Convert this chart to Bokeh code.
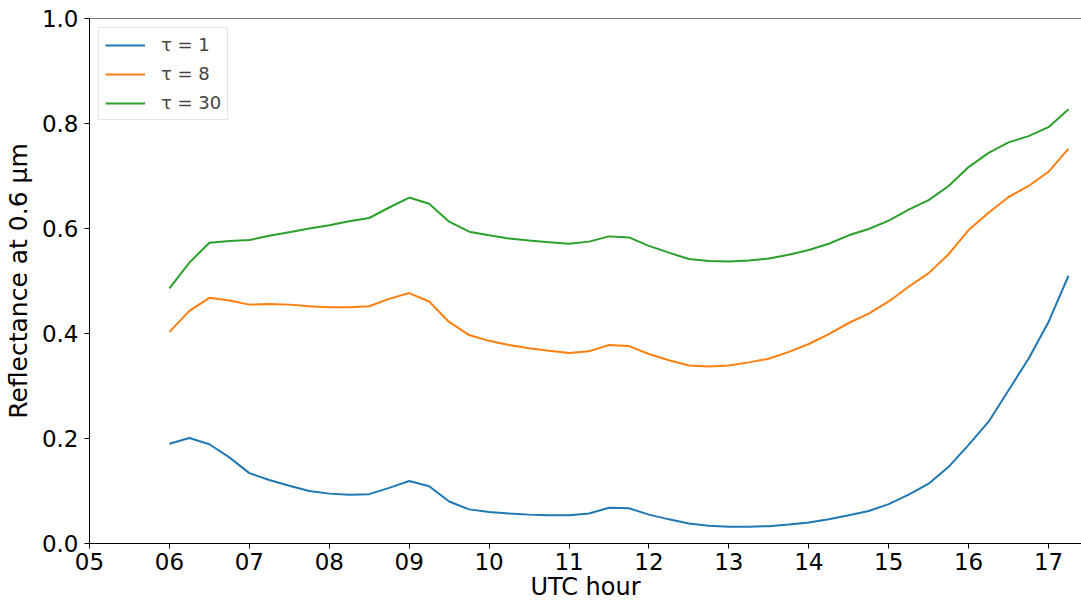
from bokeh.plotting import figure
from bokeh.models import Range1d, FixedTicker, Span, Legend, LegendItem
from bokeh.embed import file_html
from bokeh.resources import INLINE

hours = [6.0 + 0.25 * i for i in range(46)]

tau1 = [0.190, 0.201, 0.189, 0.164, 0.134, 0.121, 0.110, 0.100, 0.095, 0.093,
        0.094, 0.106, 0.119, 0.109, 0.080, 0.065, 0.060, 0.057, 0.055, 0.054,
        0.054, 0.057, 0.068, 0.067, 0.055, 0.046, 0.038, 0.034, 0.032, 0.032,
        0.033, 0.036, 0.040, 0.046, 0.054, 0.062, 0.075, 0.093, 0.114, 0.146,
        0.188, 0.232, 0.292, 0.352, 0.422, 0.510]

tau8 = [0.403, 0.443, 0.468, 0.463, 0.455, 0.456, 0.455, 0.452, 0.450, 0.450,
        0.452, 0.466, 0.477, 0.461, 0.422, 0.397, 0.386, 0.378, 0.372, 0.367,
        0.363, 0.366, 0.378, 0.376, 0.361, 0.349, 0.339, 0.337, 0.339, 0.345,
        0.352, 0.365, 0.380, 0.399, 0.420, 0.438, 0.461, 0.489, 0.515, 0.551,
        0.597, 0.630, 0.660, 0.681, 0.708, 0.752]

tau30 = [0.486, 0.535, 0.573, 0.576, 0.578, 0.586, 0.593, 0.600, 0.606, 0.614,
         0.620, 0.640, 0.659, 0.647, 0.613, 0.594, 0.587, 0.581, 0.577, 0.574,
         0.571, 0.575, 0.585, 0.583, 0.567, 0.554, 0.542, 0.538, 0.537, 0.539,
         0.543, 0.550, 0.559, 0.571, 0.587, 0.599, 0.615, 0.636, 0.654, 0.681,
         0.717, 0.744, 0.764, 0.776, 0.793, 0.827]

series_names = ["τ = 1", "τ = 8", "τ = 30"]
series_values = [tau1, tau8, tau30]
series_colors = ["#1f77b4", "#ff7f0e", "#2ca02c"]

x_ticks = list(range(5, 18))
x_tick_labels = ["05", "06", "07", "08", "09", "10", "11", "12", "13", "14", "15", "16", "17"]
y_ticks = [0.0, 0.2, 0.4, 0.6, 0.8, 1.0]
y_tick_labels = ["0.0", "0.2", "0.4", "0.6", "0.8", "1.0"]
baseline = 0.0

FONT = "DejaVu Sans"

p = figure(width=1081, height=608, output_backend="svg", toolbar_location=None,
           x_range=Range1d(5, 17.4125), y_range=Range1d(0, 1),
           min_border_left=88, min_border_right=0, min_border_top=18, min_border_bottom=65)
p.outline_line_color = None
p.xgrid.visible = False
p.ygrid.visible = False
p.background_fill_color = "white"
p.border_fill_color = "white"

for ax in (p.xaxis[0], p.yaxis[0]):
    ax.axis_line_color = "black"
    ax.axis_line_width = 1
    ax.major_tick_line_color = "black"
    ax.major_tick_out = 5
    ax.major_tick_in = 0
    ax.minor_tick_line_color = None
    ax.major_label_text_font = FONT
    ax.major_label_text_font_size = "23px"
    ax.major_label_text_color = "black"
    ax.axis_label_text_font = FONT
    ax.axis_label_text_font_style = "normal"
    ax.axis_label_text_color = "black"

p.xaxis.axis_label_text_font_size = "24px"
p.yaxis.axis_label_text_font_size = "25px"
p.xaxis.ticker = FixedTicker(ticks=x_ticks)
p.xaxis.major_label_overrides = {t: l for t, l in zip(x_ticks, x_tick_labels)}
p.yaxis.ticker = FixedTicker(ticks=y_ticks)
p.yaxis.major_label_overrides = {t: l for t, l in zip(y_ticks, y_tick_labels)}
p.xaxis.axis_label = "UTC hour"
p.yaxis.axis_label = "Reflectance at 0.6 µm"
p.xaxis.major_label_standoff = 4
p.yaxis.major_label_standoff = 6
p.xaxis.axis_label_standoff = 0
p.yaxis.axis_label_standoff = 6

p.add_layout(Span(location=1.0, dimension="width", line_color="black", line_width=1))
p.add_layout(Span(location=baseline, dimension="width", line_color="black",
                  line_width=1, line_dash="2 2"))

items = []
for name, vals, col in zip(series_names, series_values, series_colors):
    r = p.line(hours, vals, line_color=col, line_width=2)
    items.append(LegendItem(label=name, renderers=[r]))

legend = Legend(items=items, location="top_left", margin=9, padding=6,
                glyph_width=40, glyph_height=20, spacing=8, label_standoff=16,
                label_text_font=FONT, label_text_font_size="18px",
                label_text_baseline="middle",
                border_line_color="#cccccc", border_line_width=1,
                background_fill_color="white", background_fill_alpha=0.8)
p.add_layout(legend)

open("out.html", "w").write(file_html(p, INLINE))
